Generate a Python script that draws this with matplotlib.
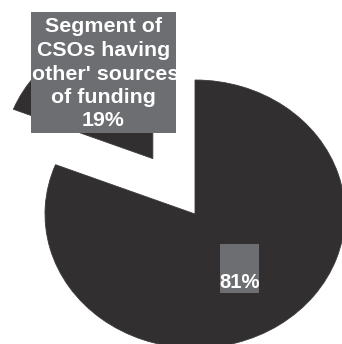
import matplotlib
matplotlib.use("Agg")
import matplotlib.pyplot as plt
import matplotlib.patches as ptc

# share of CSOs by source of funding
labels = ["Segment of\nCSOs having\n'other' sources\nof funding", ""]
values = [19, 81]
explode = [0.5, 0]

slice_col = "#312f30"
box_col = "#6d6e71"

W, H = 342, 344
fig = plt.figure(figsize=(W / 100, H / 100), dpi=100)
ax = fig.add_axes([0, 0, 1, 1])

wedges, _ = ax.pie(values, explode=explode, startangle=90, counterclock=True,
                   colors=[slice_col, slice_col], radius=1,
                   wedgeprops=dict(linewidth=0.6, edgecolor="#3c3a3b"))

# the pie is drawn slightly wider than tall
ax.set_aspect("auto")
ax.set_xlim(-1.30, 0.98)
ax.set_ylim(-0.97, 1.597)
ax.axis("off")

font = dict(family=["Liberation Sans", "DejaVu Sans"], weight="bold",
            color="white")


def label_box(x0, y0, x1, y1):
    # grey box given in pixels from the top-left corner
    r = ptc.Rectangle((x0 / W, 1 - y1 / H), (x1 - x0) / W, (y1 - y0) / H,
                      transform=fig.transFigure, fc=box_col, ec="none",
                      zorder=3)
    ax.add_patch(r)
    return r


# label of the small exploded slice, text cut at the box edges
box1 = label_box(31, 12, 176, 133)
t1 = ax.text(103.5 / W, 1 - 74 / H, labels[0] + "\n%d%%" % values[0],
             transform=fig.transFigure, ha="center", va="center",
             linespacing=1.3, size=15.4, zorder=4, **font)
t1.set_clip_path(box1)

# label of the big slice
box2 = label_box(220, 244, 259, 293)
t2 = ax.text(239.5 / W, 1 - 288 / H, "%d%%" % values[1],
             transform=fig.transFigure, ha="center", va="baseline",
             size=14.6, zorder=4, **font)
t2.set_clip_path(box2)

fig.savefig("out.png", dpi=100)
